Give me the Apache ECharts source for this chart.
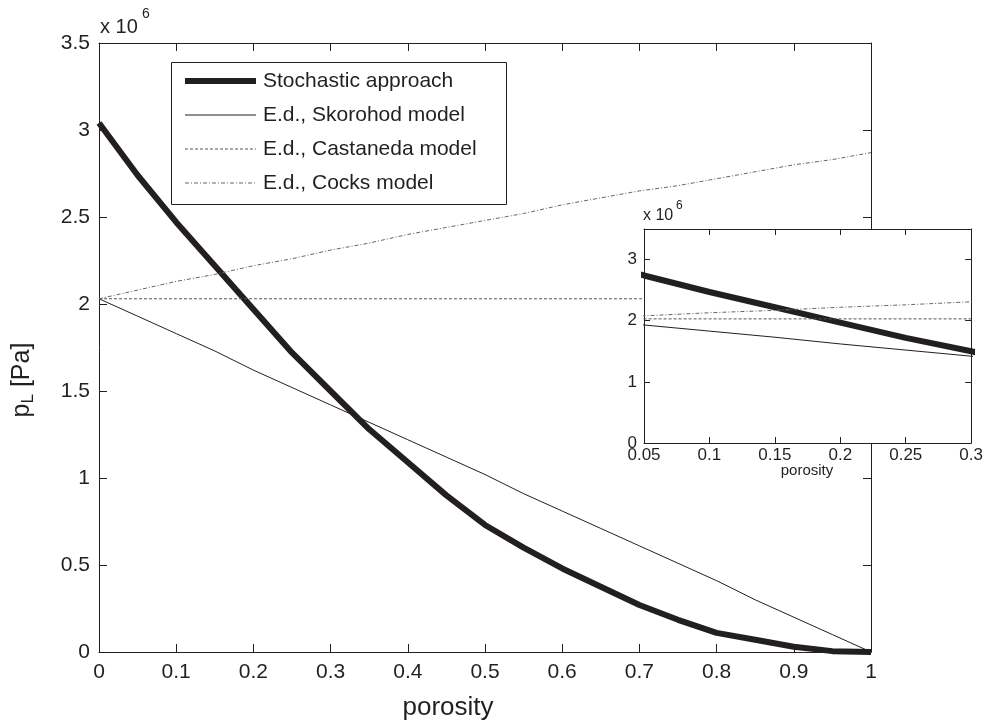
<!DOCTYPE html>
<html>
<head>
<meta charset="utf-8">
<script src="https://cdn.jsdelivr.net/npm/echarts@6/dist/echarts.min.js"></script>
<style>
html,body{margin:0;padding:0;background:#fff;}
#chart{width:986px;height:723px;}
</style>
</head>
<body>
<div id="chart"></div>
<script>
// ---- data (pressure values in units of 1e6 Pa) ----
const porosity   = [0,0.05,0.1,0.15,0.2,0.25,0.3,0.35,0.4,0.45,0.5,0.55,0.6,0.65,0.7,0.75,0.8,0.85,0.9,0.95,1];
const stochastic = [3.04,2.74,2.47,2.22,1.97,1.72,1.50,1.28,1.09,0.90,0.73,0.60,0.48,0.375,0.27,0.185,0.11,0.07,0.03,0.005,0];
const skorohod   = [2.03,1.93,1.83,1.73,1.62,1.52,1.42,1.32,1.22,1.12,1.02,0.91,0.81,0.71,0.61,0.51,0.41,0.30,0.20,0.10,0];
const castaneda  = [2.03,2.03,2.03,2.03,2.03,2.03,2.03,2.03,2.03,2.03,2.03,2.03,2.03,2.03,2.03,2.03,2.03,2.03,2.03,2.03,2.03];
const cocks      = [2.03,2.08,2.13,2.17,2.22,2.26,2.31,2.35,2.40,2.44,2.48,2.52,2.57,2.61,2.65,2.68,2.72,2.76,2.80,2.83,2.87];
const seriesNames = ['Stochastic approach','E.d., Skorohod model','E.d., Castaneda model','E.d., Cocks model'];
const seriesData  = [stochastic, skorohod, castaneda, cocks];

const FONT = 'Liberation Sans, Arial, Helvetica, sans-serif';
const INK = '#231f20';
const lineStyles = [
  {color: INK, width: 6, type: 'solid'},
  {color: INK, width: 1, type: 'solid'},
  {color: '#555', width: 1, type: [3, 2]},
  {color: '#666', width: 1, type: [4, 2, 1, 2]}
];

function pairs(arr){ return porosity.map((p,i)=>[p,arr[i]]); }

const MAIN = {left:99, top:43, width:772, height:609};
const INSET = {left:644, top:229, width:328, height:214};
const LEG = {left:171, top:62, right:506, bottom:204, row0:81, rowGap:34, lineX1:185, lineX2:256, textX:263};

function axisCommon(extra){
  return Object.assign({
    type:'value',
    axisLine:{show:true, onZero:false, lineStyle:{color:INK, width:1}},
    axisTick:{show:true, inside:true, length:8, lineStyle:{color:INK}},
    splitLine:{show:false}
  }, extra);
}

const series = [];
seriesData.forEach((d,i)=>{
  series.push({name:seriesNames[i], type:'line', xAxisIndex:0, yAxisIndex:0, data:pairs(d),
    symbol:'none', itemStyle:{color:lineStyles[i].color}, lineStyle:lineStyles[i], z:2, animation:false});
});
seriesData.forEach((d,i)=>{
  series.push({name:seriesNames[i], type:'line', xAxisIndex:2, yAxisIndex:2, data:pairs(d),
    symbol:'none', itemStyle:{color:lineStyles[i].color}, lineStyle:lineStyles[i], z:60, clip:true, animation:false});
});

// legend drawn as graphic elements (box, sample lines, labels)
const legendGraphics = [
  {type:'rect', z:20, shape:{x:LEG.left+0.5, y:LEG.top+0.5, width:LEG.right-LEG.left, height:LEG.bottom-LEG.top},
    style:{fill:'#fff', stroke:INK, lineWidth:1}}
];
seriesNames.forEach((name,i)=>{
  const y = LEG.row0 + i*LEG.rowGap;
  const ls = lineStyles[i];
  legendGraphics.push({type:'line', z:21, shape:{x1:LEG.lineX1, y1:y, x2:LEG.lineX2, y2:y},
    style:{stroke:ls.color, lineWidth:ls.width, lineDash:Array.isArray(ls.type)?ls.type:null}});
  legendGraphics.push({type:'text', z:21, x:LEG.textX, y:y,
    style:{text:name, font:'21px '+FONT, fill:INK, verticalAlign:'middle'}});
});

const option = {
  animation:false,
  backgroundColor:'#fff',
  textStyle:{fontFamily:FONT, color:INK},
  grid:[
    {left:MAIN.left, top:MAIN.top, width:MAIN.width, height:MAIN.height},
    {left:INSET.left, top:INSET.top, width:INSET.width, height:INSET.height}
  ],
  xAxis:[
    axisCommon({gridIndex:0, position:'bottom', min:0, max:1, interval:0.1,
      axisLabel:{fontSize:21, color:INK, margin:10, fontFamily:FONT}}),
    axisCommon({gridIndex:0, position:'top', min:0, max:1, interval:0.1, axisLabel:{show:false}}),
    axisCommon({gridIndex:1, position:'bottom', min:0.05, max:0.3, interval:0.05, z:60,
      axisTick:{show:true, inside:true, length:6, lineStyle:{color:INK}},
      axisLabel:{fontSize:17, color:INK, margin:4, fontFamily:FONT}}),
    axisCommon({gridIndex:1, position:'top', min:0.05, max:0.3, interval:0.05, z:60,
      axisTick:{show:true, inside:true, length:6, lineStyle:{color:INK}},
      axisLabel:{show:false}})
  ],
  yAxis:[
    axisCommon({gridIndex:0, position:'left', min:0, max:3.5, interval:0.5,
      axisLabel:{fontSize:21, color:INK, margin:9, fontFamily:FONT}}),
    axisCommon({gridIndex:0, position:'right', min:0, max:3.5, interval:0.5, axisLabel:{show:false}}),
    axisCommon({gridIndex:1, position:'left', min:0, max:3.5, interval:1, z:60,
      axisTick:{show:true, inside:true, length:6, lineStyle:{color:INK}},
      axisLabel:{fontSize:17, color:INK, margin:7, fontFamily:FONT, showMaxLabel:false,
        formatter:function(v){ return v>3.4 ? '' : String(v); }}}),
    axisCommon({gridIndex:1, position:'right', min:0, max:3.5, interval:1, z:60,
      axisTick:{show:true, inside:true, length:6, lineStyle:{color:INK}},
      axisLabel:{show:false}})
  ],
  graphic:[
    {type:'rect', z:50, shape:{x:INSET.left, y:INSET.top, width:INSET.width, height:INSET.height},
      style:{fill:'#fff'}},
    {type:'text', z:70, x:100, y:27, style:{text:'x 10', font:'20px '+FONT, fill:INK, verticalAlign:'middle'}},
    {type:'text', z:70, x:142, y:14, style:{text:'6', font:'14px '+FONT, fill:INK, verticalAlign:'middle'}},
    {type:'text', z:70, x:643, y:216, style:{text:'x 10', font:'16px '+FONT, fill:INK, verticalAlign:'middle'}},
    {type:'text', z:70, x:676, y:206, style:{text:'6', font:'12px '+FONT, fill:INK, verticalAlign:'middle'}},
    {type:'text', z:70, x:448, y:708, style:{text:'porosity', font:'26px '+FONT, fill:INK, align:'center', verticalAlign:'middle'}},
    {type:'text', z:70, x:807, y:471, style:{text:'porosity', font:'15px '+FONT, fill:INK, align:'center', verticalAlign:'middle'}},
    {type:'text', z:70, x:22, y:380, rotation:Math.PI/2,
      style:{text:'{p|p}{s|L}{p| [Pa]}', fill:INK, align:'center', verticalAlign:'middle',
        rich:{p:{fontSize:25, fontFamily:FONT, lineHeight:30, verticalAlign:'middle', fill:INK},
              s:{fontSize:17, fontFamily:FONT, lineHeight:20, verticalAlign:'bottom', fill:INK}}}}
  ].concat(legendGraphics),
  series:series
};

const chart = echarts.init(document.getElementById('chart'), null, {renderer:'canvas'});
chart.setOption(option);
</script>
</body>
</html>
